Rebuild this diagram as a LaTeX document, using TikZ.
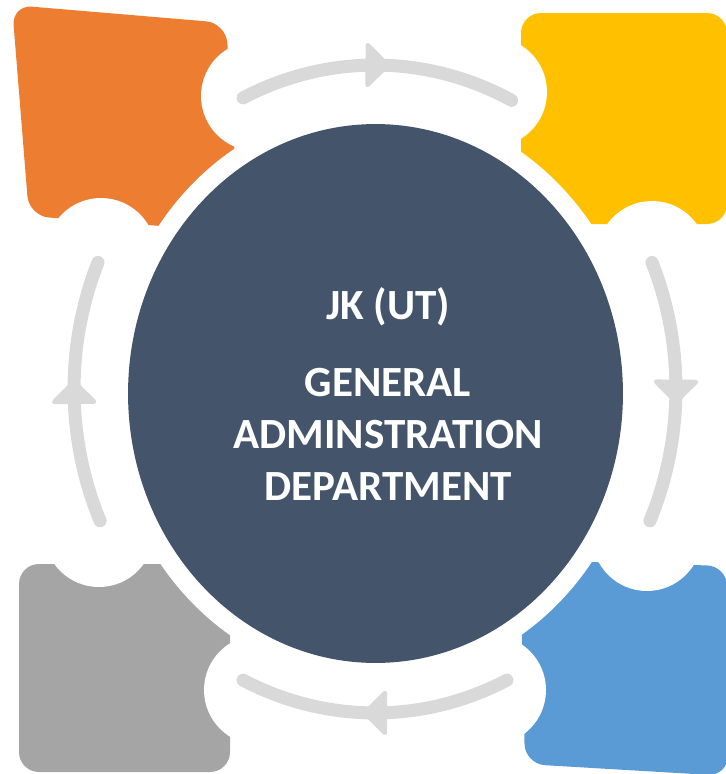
\documentclass[tikz,border=0pt]{standalone}
\usepackage{fontspec}
\setmainfont{Carlito}
\usetikzlibrary{arrows.meta, shapes.geometric, decorations.markings}

\definecolor{cycorange}{HTML}{ED7D31}
\definecolor{cycyellow}{HTML}{FFC000}
\definecolor{cycblue}{HTML}{5B9BD5}
\definecolor{cycgray}{HTML}{A5A5A5}
\definecolor{cychub}{HTML}{44546A}
\definecolor{cycarc}{HTML}{D9D9D9}

\tikzset{
  tile/.style={rounded corners=0.4cm},
  bite/.style={fill=white},
  hubtext/.style={text=white, align=center, inner sep=0pt,
    font=\fontsize{24.5}{29.5}\selectfont\bfseries},
  cyclearc/.style={draw=cycarc, line width=7.4pt, line cap=round,
    decoration={markings, mark=at position 0.5 with
      {\filldraw[cycarc, line width=2.5pt, line join=round]
        (0.2cm,0) -- (-0.2cm,0.4cm) -- (-0.2cm,-0.4cm) -- cycle;}},
    postaction={decorate}},
}

\begin{document}
\begin{tikzpicture}[x=0.02cm, y=-0.02cm]
        \useasboundingbox (0,0) rectangle (725,774);

        % Tile 1 (orange, top left)
        \fill[tile, cycorange] (12,5) -- (226,23) -- (240,232) -- (29,216) -- cycle;

        % Tile 2 (yellow, top right)
        \fill[tile, cycyellow] (521,13) -- (727,13) -- (727,224) -- (521,224) -- cycle;

        % Tile 3 (blue, bottom right)
        \fill[tile, cycblue] (520,560) -- (727,566) -- (728,776) -- (525,764) -- cycle;

        % Tile 4 (gray, bottom left)
        \fill[tile, cycgray] (19,564) -- (230,564) -- (230,772) -- (19,772) -- cycle;

        % white gap round the hub
        \fill[white] (375.5,393.5) ellipse [x radius=5.33cm, y radius=5.77cm];

        % bites at the ends of the arcs
        \foreach \bx/\by in {256/96, 101/253, 492/92, 652/256, 647/536, 491/690, 259/690, 99/532}
          \fill[bite] (\bx,\by) circle [radius=1.1cm];

        % hub
        \node[ellipse, fill=cychub, minimum width=9.9cm, minimum height=10.78cm, inner sep=0pt]
              (hub) at (375.5,393.5) {};
        \node[hubtext] (title) at (388,394) {JK (UT)\\[14pt]GENERAL\\ADMINSTRATION\\DEPARTMENT};

        % flow arcs, clockwise
        \coordinate (ringc) at (375,389);
        \draw[cyclearc] (ringc) ++(116:6.02cm and 6.48cm) arc[start angle=116, end angle=63, x radius=6.02cm, y radius=6.48cm];
        \draw[cyclearc] (ringc) ++(23:6.02cm and 6.48cm) arc[start angle=23, end angle=-24, x radius=6.02cm, y radius=6.48cm];
        \draw[cyclearc] (ringc) ++(-64:6.02cm and 6.48cm) arc[start angle=-64, end angle=-116, x radius=6.02cm, y radius=6.48cm];
        \draw[cyclearc] (ringc) ++(204:6.02cm and 6.48cm) arc[start angle=204, end angle=157, x radius=6.02cm, y radius=6.48cm];
\end{tikzpicture}
\end{document}
